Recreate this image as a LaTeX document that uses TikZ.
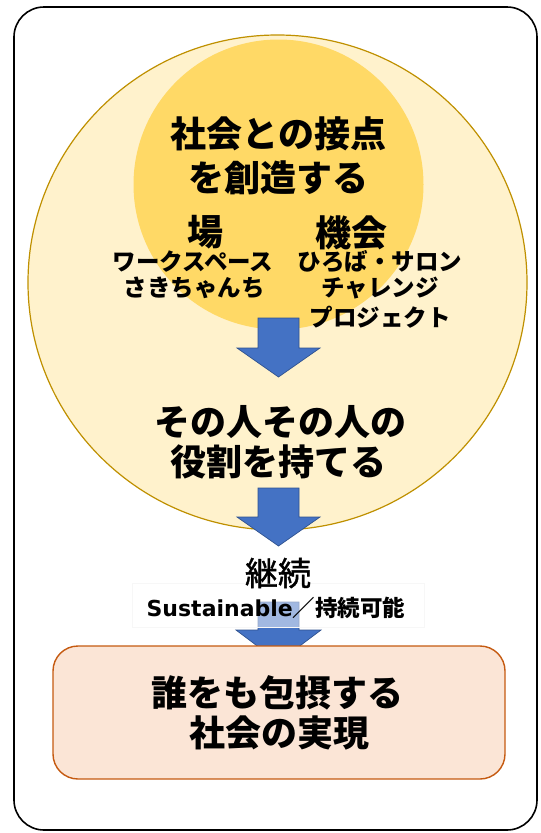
\documentclass[tikz,border=0pt]{standalone}
\usepackage{fontspec}
\usetikzlibrary{shapes.geometric}
\newfontfamily\jp{Noto Sans CJK JP}
\newfontfamily\jpmed{Noto Sans CJK JP}[FakeBold=1.2]
\newfontfamily\dvb{DejaVu Sans}
\definecolor{outerfill}{HTML}{FFF2CC}
\definecolor{outeredge}{HTML}{BF9000}
\definecolor{innerfill}{HTML}{FFD966}
\definecolor{arrowblue}{HTML}{4472C4}
\definecolor{arrowedge}{HTML}{2F528F}
\definecolor{goalfill}{HTML}{FBE5D6}
\definecolor{goaledge}{HTML}{C55A11}
\begin{document}
\begin{tikzpicture}[x=1pt,y=-1pt,
  bigtext/.style={font=\jp\bfseries\fontsize{36}{36}\selectfont, inner sep=0pt},
  smalltext/.style={font=\jp\bfseries\fontsize{23.5}{24}\selectfont, inner sep=0pt},
  blockarrow/.style={fill=arrowblue, draw=arrowedge, line width=0.7pt, line join=miter}]
\useasboundingbox (0,0) rectangle (541,833);
% frame
\draw[line width=1.6pt, rounded corners=30pt] (14,7) rectangle (537,830);
% circles
\node[ellipse, draw=outeredge, fill=outerfill, line width=1.2pt,
      minimum width=499pt, minimum height=495pt, inner sep=0pt] (outer) at (277.5,282.5) {};
\node[circle, fill=innerfill, minimum size=290pt, inner sep=0pt] (inner) at (278.5,184.5) {};
% texts in circles
\node[bigtext] (t1) at (278.5,134) {社会との接点};
\node[bigtext] (t2) at (278.5,178) {を創造する};
\node[bigtext] (ba) at (205,232) {場};
\node[bigtext] (ki) at (351,233) {機会};
\node[smalltext] (w1) at (193,262) {ワークスペース};
\node[smalltext] (w2) at (194,288) {さきちゃんち};
\node[smalltext] (k1) at (380,262) {ひろば・サロン};
\node[smalltext] (k2) at (380,288) {チャレンジ};
\node[smalltext] (k3) at (380,317) {プロジェクト};
\node[bigtext] (r1) at (280,422) {その人その人の};
\node[bigtext] (r2) at (278,462) {役割を持てる};
% arrows
\draw[blockarrow] (258,318) -- (299,318) -- (299,348) -- (320,348) -- (278.5,377)
   -- (237,348) -- (258,348) -- cycle;
\draw[blockarrow] (258,488) -- (299,488) -- (299,517) -- (320,517) -- (278.5,546)
   -- (237,517) -- (258,517) -- cycle;
\draw[blockarrow] (258,602) -- (299,602) -- (299,630) -- (321,630) -- (278.5,662)
   -- (236,630) -- (258,630) -- cycle;
% sustain label
\node[fill=white, fill opacity=0.5, draw=black!3, draw opacity=1, minimum width=292pt,
      minimum height=44pt, inner sep=0pt] (subox) at (278,605) {};
\node[font=\jpmed\fontsize{33}{33}\selectfont, inner sep=0pt] (kz) at (278,573) {継続};
\node[inner sep=0pt] (su) at (276,608)
  {{\dvb\bfseries\fontsize{22}{22}\selectfont Sustainable}{\jp\bfseries\fontsize{22.5}{22.5}\selectfont ／持続可能}};
% goal box
\node[draw=goaledge, fill=goalfill, line width=1.4pt, rounded corners=25pt,
      minimum width=452pt, minimum height=133pt, inner sep=0pt] (goal) at (279,712.5) {};
\node[bigtext] (b1) at (277.5,693) {誰をも包摂する};
\node[bigtext] (b2) at (279,733) {社会の実現};
\end{tikzpicture}
\end{document}
